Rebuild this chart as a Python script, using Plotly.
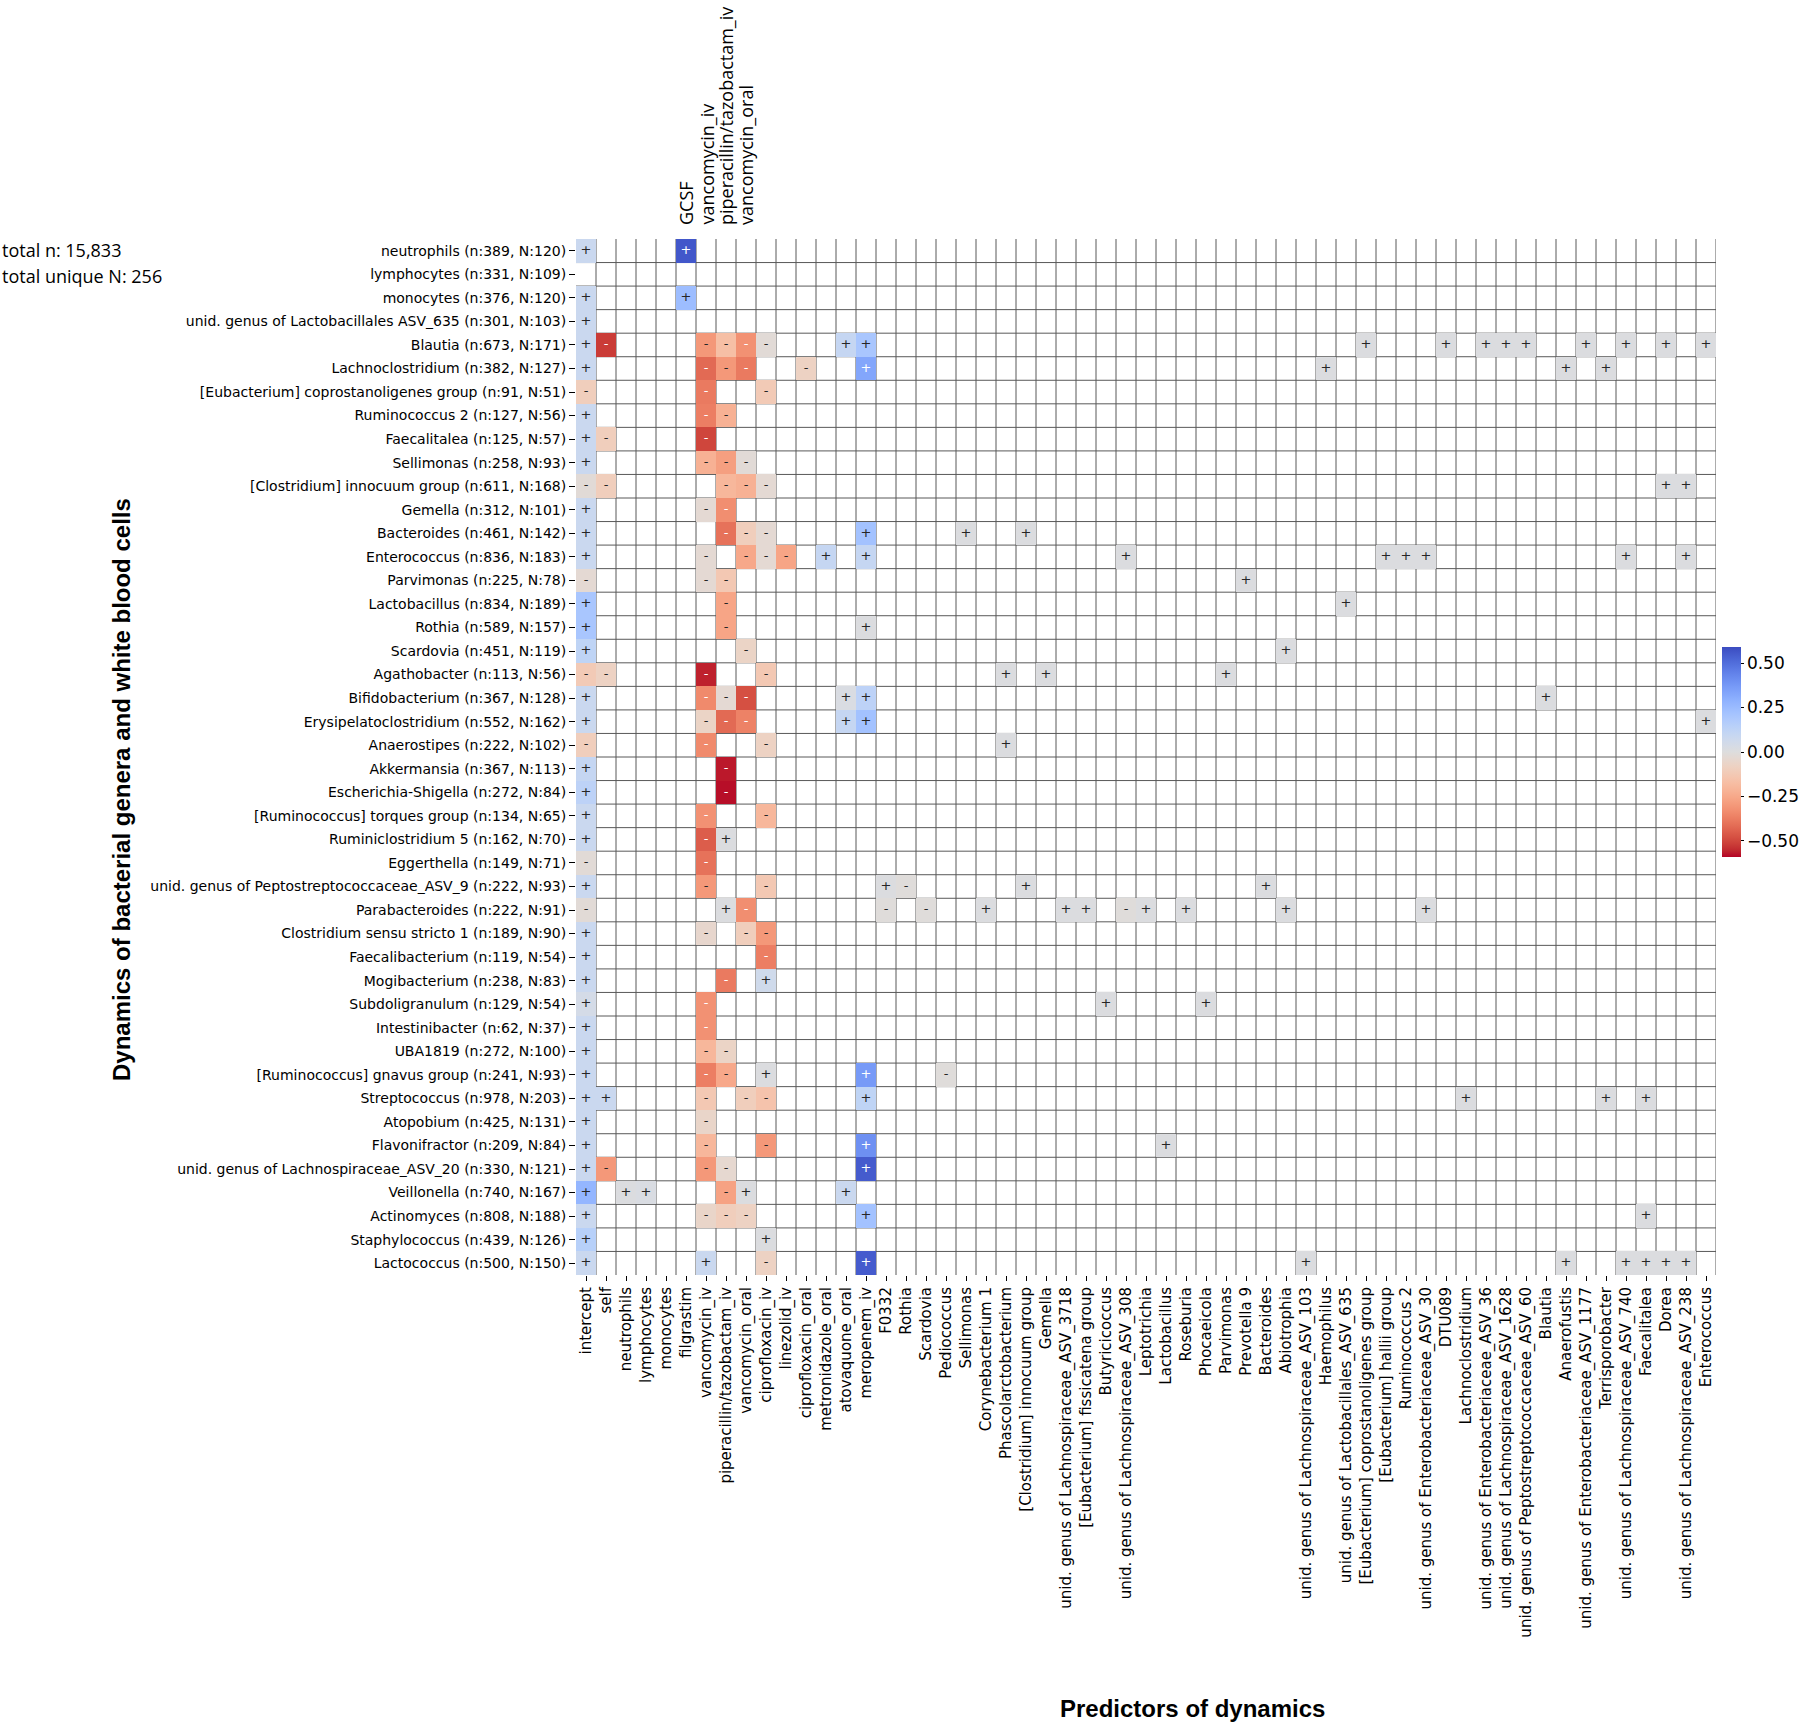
import plotly.graph_objects as go

# ---------------- data ----------------
row_labels = [
    "neutrophils (n:389, N:120)",
    "lymphocytes (n:331, N:109)",
    "monocytes (n:376, N:120)",
    "unid. genus of Lactobacillales ASV_635 (n:301, N:103)",
    "Blautia (n:673, N:171)",
    "Lachnoclostridium (n:382, N:127)",
    "[Eubacterium] coprostanoligenes group (n:91, N:51)",
    "Ruminococcus 2 (n:127, N:56)",
    "Faecalitalea (n:125, N:57)",
    "Sellimonas (n:258, N:93)",
    "[Clostridium] innocuum group (n:611, N:168)",
    "Gemella (n:312, N:101)",
    "Bacteroides (n:461, N:142)",
    "Enterococcus (n:836, N:183)",
    "Parvimonas (n:225, N:78)",
    "Lactobacillus (n:834, N:189)",
    "Rothia (n:589, N:157)",
    "Scardovia (n:451, N:119)",
    "Agathobacter (n:113, N:56)",
    "Bifidobacterium (n:367, N:128)",
    "Erysipelatoclostridium (n:552, N:162)",
    "Anaerostipes (n:222, N:102)",
    "Akkermansia (n:367, N:113)",
    "Escherichia-Shigella (n:272, N:84)",
    "[Ruminococcus] torques group (n:134, N:65)",
    "Ruminiclostridium 5 (n:162, N:70)",
    "Eggerthella (n:149, N:71)",
    "unid. genus of Peptostreptococcaceae_ASV_9 (n:222, N:93)",
    "Parabacteroides (n:222, N:91)",
    "Clostridium sensu stricto 1 (n:189, N:90)",
    "Faecalibacterium (n:119, N:54)",
    "Mogibacterium (n:238, N:83)",
    "Subdoligranulum (n:129, N:54)",
    "Intestinibacter (n:62, N:37)",
    "UBA1819 (n:272, N:100)",
    "[Ruminococcus] gnavus group (n:241, N:93)",
    "Streptococcus (n:978, N:203)",
    "Atopobium (n:425, N:131)",
    "Flavonifractor (n:209, N:84)",
    "unid. genus of Lachnospiraceae_ASV_20 (n:330, N:121)",
    "Veillonella (n:740, N:167)",
    "Actinomyces (n:808, N:188)",
    "Staphylococcus (n:439, N:126)",
    "Lactococcus (n:500, N:150)",
]

col_labels = [
    "intercept", "self", "neutrophils", "lymphocytes", "monocytes", "filgrastim",
    "vancomycin_iv", "piperacillin/tazobactam_iv", "vancomycin_oral", "ciprofloxacin_iv",
    "linezolid_iv", "ciprofloxacin_oral", "metronidazole_oral", "atovaquone_oral",
    "meropenem_iv", "F0332", "Rothia", "Scardovia", "Pediococcus", "Sellimonas",
    "Corynebacterium 1", "Phascolarctobacterium", "[Clostridium] innocuum group", "Gemella",
    "unid. genus of Lachnospiraceae_ASV_3718", "[Eubacterium] fissicatena group",
    "Butyricicoccus", "unid. genus of Lachnospiraceae_ASV_308", "Leptotrichia",
    "Lactobacillus", "Roseburia", "Phocaeicola", "Parvimonas", "Prevotella 9",
    "Bacteroides", "Abiotrophia", "unid. genus of Lachnospiraceae_ASV_103", "Haemophilus",
    "unid. genus of Lactobacillales_ASV_635", "[Eubacterium] coprostanoligenes group",
    "[Eubacterium] hallii group", "Ruminococcus 2", "unid. genus of Enterobacteriaceae_ASV_30",
    "DTU089", "Lachnoclostridium", "unid. genus of Enterobacteriaceae_ASV_36",
    "unid. genus of Lachnospiraceae_ASV_1628", "unid. genus of Peptostreptococcaceae_ASV_60",
    "Blautia", "Anaerofustis", "unid. genus of Enterobacteriaceae_ASV_1177",
    "Terrisporobacter", "unid. genus of Lachnospiraceae_ASV_740", "Faecalitalea", "Dorea",
    "unid. genus of Lachnospiraceae_ASV_238", "Enterococcus",
]

top_labels = ["GCSF", "vancomycin_iv", "piperacillin/tazobactam_iv", "vancomycin_oral"]
top_label_cols = [5, 6, 7, 8]

total_lines = ["total n: 15,833", "total unique N: 256"]
y_title = "Dynamics of bacterial genera and white blood cells"
x_title = "Predictors of dynamics"

colorbar_ticks = [-0.5, -0.25, 0.0, 0.25, 0.5]
z_limit = 0.59

# sparse coefficients for each row: {column index: coefficient}
coef_by_row = [
    {0: 0.08, 5: 0.56},
    {},
    {0: 0.08, 5: 0.24},
    {0: 0.08},
    {0: 0.08, 1: -0.52, 6: -0.30, 7: -0.17, 8: -0.32, 9: -0.02, 13: 0.10, 14: 0.20,
     39: 0.01, 43: 0.01, 45: 0.01, 46: 0.01, 47: 0.01, 50: 0.01, 52: 0.01, 54: 0.01, 56: 0.01},
    {0: 0.08, 6: -0.42, 7: -0.30, 8: -0.38, 11: -0.08, 14: 0.33, 37: 0.01, 49: 0.01, 51: 0.01},
    {0: -0.10, 6: -0.38, 9: -0.12},
    {0: 0.08, 6: -0.37, 7: -0.22},
    {0: 0.08, 1: -0.10, 6: -0.50},
    {0: 0.08, 6: -0.22, 7: -0.28, 8: -0.02},
    {0: -0.02, 1: -0.10, 7: -0.20, 8: -0.22, 9: -0.03, 54: 0.01, 55: 0.01},
    {0: 0.08, 6: -0.03, 7: -0.33},
    {0: 0.08, 7: -0.40, 8: -0.10, 9: -0.03, 14: 0.22, 19: 0.01, 22: 0.01},
    {0: 0.08, 6: -0.03, 8: -0.25, 9: -0.03, 10: -0.26, 12: 0.10, 14: 0.10, 27: 0.01,
     40: 0.01, 41: 0.01, 42: 0.01, 52: 0.01, 55: 0.01},
    {0: -0.03, 6: -0.03, 7: -0.13, 33: 0.01},
    {0: 0.20, 7: -0.26, 38: 0.01},
    {0: 0.20, 7: -0.26, 14: 0.01},
    {0: 0.12, 8: -0.07, 35: 0.01},
    {0: -0.12, 1: -0.08, 6: -0.56, 9: -0.13, 21: 0.01, 23: 0.01, 32: 0.01},
    {0: 0.08, 6: -0.34, 7: -0.03, 8: -0.48, 13: 0.02, 14: 0.13, 48: 0.01},
    {0: 0.08, 6: -0.07, 7: -0.42, 8: -0.36, 13: 0.10, 14: 0.22, 56: 0.01},
    {0: -0.10, 6: -0.34, 9: -0.08, 21: 0.01},
    {0: 0.10, 7: -0.57},
    {0: 0.13, 7: -0.58},
    {0: 0.08, 6: -0.32, 9: -0.20},
    {0: 0.08, 6: -0.45, 7: 0.01},
    {0: -0.02, 6: -0.40},
    {0: 0.08, 6: -0.30, 9: -0.13, 15: 0.01, 16: -0.01, 22: 0.01, 34: 0.01},
    {0: -0.02, 7: 0.01, 8: -0.33, 15: -0.01, 17: -0.01, 20: 0.01, 24: 0.01, 25: 0.01,
     27: -0.01, 28: 0.01, 30: 0.01, 35: 0.01, 42: 0.01},
    {0: 0.08, 6: -0.05, 8: -0.10, 9: -0.30},
    {0: 0.08, 9: -0.37},
    {0: 0.08, 7: -0.38, 9: 0.06},
    {0: 0.04, 6: -0.32, 26: 0.01, 31: 0.01},
    {0: 0.08, 6: -0.32},
    {0: 0.08, 6: -0.20, 7: -0.07},
    {0: 0.08, 6: -0.37, 7: -0.25, 9: 0.01, 14: 0.37, 18: -0.01},
    {0: 0.08, 1: 0.08, 6: -0.13, 8: -0.10, 9: -0.15, 14: 0.12, 44: 0.01, 51: 0.01, 53: 0.01},
    {0: 0.08, 6: -0.06},
    {0: 0.08, 6: -0.20, 9: -0.30, 14: 0.40, 29: 0.01},
    {0: 0.08, 1: -0.30, 6: -0.30, 7: -0.04, 14: 0.55},
    {0: 0.27, 2: 0.01, 3: 0.02, 7: -0.27, 8: 0.01, 13: 0.08},
    {0: 0.08, 6: -0.06, 7: -0.10, 8: -0.08, 14: 0.22, 53: 0.01},
    {0: 0.15, 9: 0.01},
    {0: 0.08, 6: 0.08, 9: -0.08, 14: 0.55, 36: 0.01, 49: 0.01, 52: 0.01, 53: 0.01,
     54: 0.01, 55: 0.01},
]

# matplotlib "coolwarm" control points (blue -> gray -> red)
coolwarm_rgb = [
    (59, 76, 192), (68, 90, 204), (77, 104, 215), (87, 117, 225), (98, 130, 234),
    (108, 142, 241), (119, 154, 247), (130, 165, 251), (141, 176, 254), (152, 185, 255),
    (163, 194, 255), (174, 201, 253), (184, 208, 249), (194, 213, 244), (204, 217, 238),
    (213, 219, 230), (221, 221, 221), (229, 216, 209), (236, 211, 197), (241, 204, 185),
    (245, 196, 173), (247, 187, 160), (247, 177, 148), (247, 166, 135), (244, 154, 123),
    (241, 141, 111), (236, 127, 99), (229, 112, 88), (222, 96, 77), (213, 80, 66),
    (203, 62, 56), (192, 40, 47), (180, 4, 38),
]

# ---------------- build ----------------
n_rows, n_cols = len(row_labels), len(col_labels)
z = [[None] * n_cols for _ in range(n_rows)]
for r, d in enumerate(coef_by_row):
    for c, v in d.items():
        z[r][c] = v

# reversed coolwarm: red for negative, blue for positive
rev = coolwarm_rgb[::-1]
nstops = len(rev)
colorscale = [[i / (nstops - 1), "rgb(%d,%d,%d)" % rev[i]] for i in range(nstops)]


def color_at(v):
    t = (v + z_limit) / (2 * z_limit)
    t = min(max(t, 0.0), 1.0) * (nstops - 1)
    i = min(int(t), nstops - 2)
    f = t - i
    a, b = rev[i], rev[i + 1]
    return tuple(a[k] + (b[k] - a[k]) * f for k in range(3))


def luminance(rgb):
    out = []
    for ch in rgb:
        c = ch / 255.0
        out.append(c / 12.92 if c <= 0.03928 else ((c + 0.055) / 1.055) ** 2.4)
    return 0.2126 * out[0] + 0.7152 * out[1] + 0.0722 * out[2]


tx, ty, tt, tc = [], [], [], []
for r, d in enumerate(coef_by_row):
    for c, v in d.items():
        tx.append(c)
        ty.append(r)
        tt.append("+" if v > 0 else "-")
        tc.append("#ffffff" if luminance(color_at(v)) < 0.408 else "#262626")

W, H = 1800, 1725
x0_px, x1_px = 576, 1716
y0_px, y1_px = 239, 1275

fig = go.Figure()
fig.add_trace(go.Heatmap(
    z=z, x=list(range(n_cols)), y=list(range(n_rows)),
    zmin=-z_limit, zmax=z_limit, colorscale=colorscale,
    hoverinfo="skip",
    colorbar=dict(
        x=1722 / W, xanchor="left", xpad=0,
        y=1 - 752 / H, yanchor="middle", ypad=0,
        len=210, lenmode="pixels", thickness=19, thicknessmode="pixels",
        outlinewidth=0,
        tickvals=colorbar_ticks,
        ticktext=[("\u2212%.2f" % abs(v)) if v < 0 else "%.2f" % v for v in colorbar_ticks],
        ticks="outside", ticklen=3, tickwidth=1, tickcolor="black",
        tickfont=dict(family="DejaVu Sans", size=17, color="black"),
    ),
))
fig.add_trace(go.Scatter(
    x=tx, y=ty, text=tt, mode="text",
    textfont=dict(family="DejaVu Sans", size=13, color=tc),
    hoverinfo="skip", showlegend=False, cliponaxis=False,
))

shapes = []
line_style = dict(color="#595959", width=1)
for i in range(1, n_cols + 1):
    shapes.append(dict(type="line", xref="x", yref="y", x0=i - 0.5, x1=i - 0.5,
                       y0=-0.5, y1=n_rows - 0.5, line=line_style, layer="below"))
for j in range(1, n_rows):
    shapes.append(dict(type="line", xref="x", yref="y", x0=-0.5, x1=n_cols - 0.5,
                       y0=j - 0.5, y1=j - 0.5, line=line_style, layer="below"))

annotations = []
for k, line in enumerate(total_lines):
    annotations.append(dict(text=line, xref="paper", yref="paper", x=0, xanchor="left",
                            y=1 - (250 + 26 * k) / H, yanchor="middle", showarrow=False,
                            font=dict(family="Open Sans", size=18, color="black")))
for lab, c in zip(top_labels, top_label_cols):
    annotations.append(dict(text=lab, xref="x", yref="paper", x=c, xanchor="center",
                            y=1 - 227 / H, yanchor="bottom", textangle=-90, showarrow=False,
                            font=dict(family="Open Sans", size=18, color="black")))
annotations.append(dict(text=y_title, xref="paper", yref="paper", x=122 / W, y=1 - 790 / H,
                        xanchor="center", yanchor="middle", textangle=-90, showarrow=False,
                        font=dict(family="Liberation Sans", size=24, color="black", weight="bold")))
annotations.append(dict(text=x_title, xref="paper", yref="paper", x=1192 / W, y=1 - 1708 / H,
                        xanchor="center", yanchor="middle", showarrow=False,
                        font=dict(family="Liberation Sans", size=24, color="black", weight="bold")))

fig.update_layout(
    width=W, height=H, template="none",
    margin=dict(l=0, r=0, t=0, b=0, pad=0),
    paper_bgcolor="white", plot_bgcolor="white",
    font=dict(family="DejaVu Sans", color="black"),
    showlegend=False,
    shapes=shapes, annotations=annotations,
    xaxis=dict(domain=[x0_px / W, x1_px / W], range=[-0.5, n_cols - 0.5],
               tickvals=list(range(n_cols)), ticktext=col_labels, tickangle=-90,
               ticks="outside", ticklen=5, tickwidth=1, tickcolor="black",
               tickfont=dict(family="DejaVu Sans", size=15, color="black"),
               showgrid=False, zeroline=False, showline=False, automargin=False),
    yaxis=dict(domain=[1 - y1_px / H, 1 - y0_px / H], range=[n_rows - 0.5, -0.5],
               tickvals=list(range(n_rows)), ticktext=row_labels,
               ticks="outside", ticklen=6, tickwidth=1, tickcolor="black",
               tickfont=dict(family="DejaVu Sans", size=14, color="black"),
               showgrid=False, zeroline=False, showline=False, automargin=False),
)

fig.write_html(
    "out.html",
    config={"displayModeBar": False},
    post_script="document.body.style.margin='0';document.body.style.padding='0';"
                "document.body.style.overflow='hidden';",
)
